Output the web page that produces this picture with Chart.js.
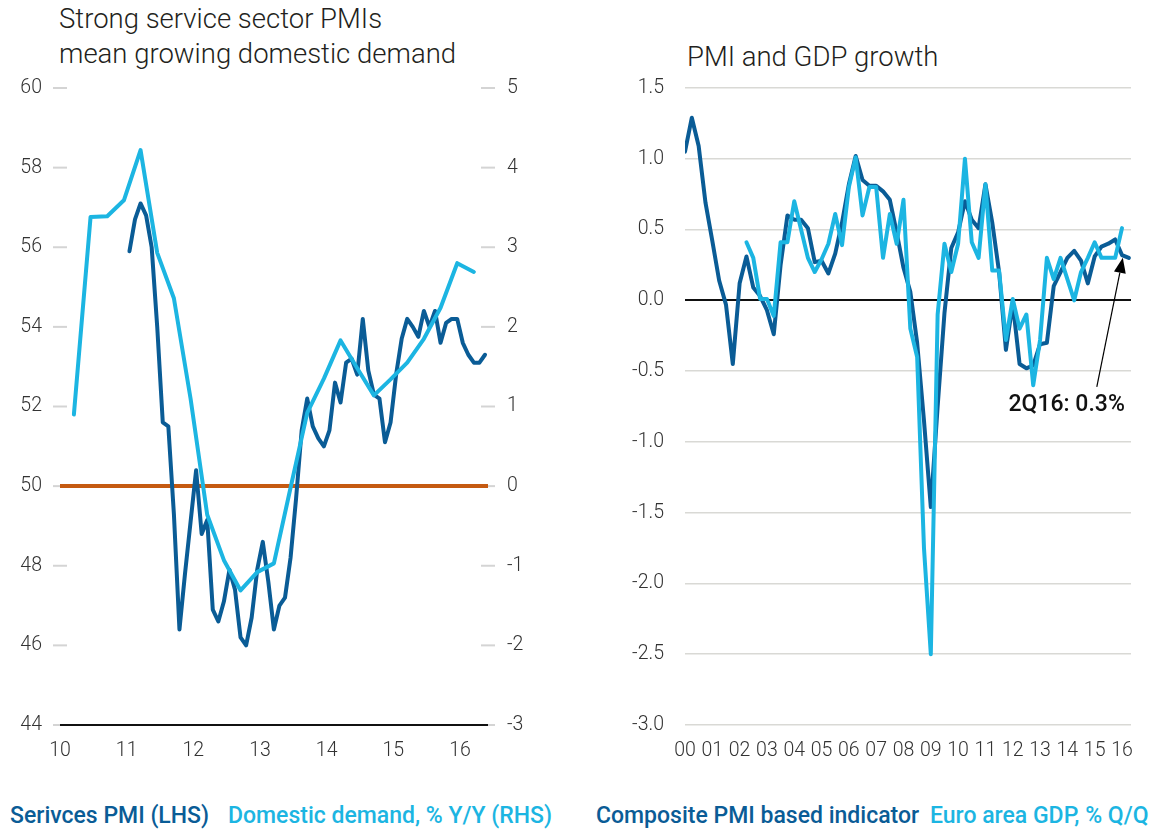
<!DOCTYPE html>
<html>
<head>
<meta charset="utf-8">
<script src="https://cdn.jsdelivr.net/npm/chart.js@4.4.1/dist/chart.umd.min.js"></script>
<style>
  body { margin: 0; background: #fff; width: 1167px; height: 829px; position: relative; overflow: hidden; font-family: Roboto, sans-serif; }
  canvas { position: absolute; top: 0; }
  #leftChart { left: 0; }
  #rightChart { left: 580px; }
  .title { position: absolute; color: #231f20; font-size: 27.5px; font-weight: 300; line-height: 35px; white-space: nowrap; }
  .legend { position: absolute; top: 802px; font-size: 23px; font-weight: 500; white-space: nowrap; line-height: 28px; }
</style>
</head>
<body>
<div class="title" style="left:59px; top:1px;">Strong service sector PMIs<br>mean growing domestic demand</div>
<div class="title" style="left:687px; top:39px;">PMI and GDP growth</div>

<canvas id="leftChart" width="580" height="790"></canvas>
<canvas id="rightChart" width="587" height="790"></canvas>

<div class="legend" style="left:10px; color:#0a5c96;">Serivces PMI (LHS)</div>
<div class="legend" style="left:228px; color:#1cb5e2;">Domestic demand, % Y/Y (RHS)</div>
<div class="legend" style="left:596px; color:#0a5c96;">Composite PMI based indicator</div>
<div class="legend" style="left:930px; color:#1cb5e2;">Euro area GDP, % Q/Q</div>

<script>
const DARK = '#0a5c96';
const LIGHT = '#1cb5e2';
const ORANGE = '#c55a11';
const TEXT = '#333333';

// left panel: services PMI, monthly from Jan 2011
const servicesPmi = [
  55.9, 56.7, 57.1, 56.8, 56.0, 54.0, 51.6, 51.5, 49.3, 46.4, 47.8, 49.1,
  50.4, 48.8, 49.15, 46.9, 46.6, 47.1, 47.9, 47.4, 46.2, 46.0, 46.7, 47.9,
  48.6, 47.6, 46.4, 47.0, 47.2, 48.2, 49.7, 51.4, 52.2, 51.5, 51.2, 51.0,
  51.4, 52.6, 52.1, 53.1, 53.2, 52.8, 54.2, 52.9, 52.3, 52.2, 51.1, 51.6,
  52.8, 53.7, 54.2, 54.0, 53.75, 54.4, 54.0, 54.4, 53.6, 54.1, 54.2, 54.2,
  53.6, 53.3, 53.1, 53.1, 53.3
];
// domestic demand % y/y, quarterly from 1Q10
const domesticDemand = [
  0.90, 3.38, 3.39, 3.59,
  4.22, 2.93, 2.36, 1.10,
  -0.36, -0.93, -1.31, -1.08,
  -0.97, -0.02, 0.92, 1.35,
  1.83, 1.48, 1.14, 1.34,
  1.55, 1.85, 2.24, 2.80,
  2.69
];
const leftYears = [2010, 2011, 2012, 2013, 2014, 2015, 2016];

// right panel: quarterly from 1Q00
const compositeIndicator = [
  1.05, 1.29, 1.09, 0.69, 0.42, 0.14, -0.03, -0.45,
  0.12, 0.31, 0.09, 0.03, -0.07, -0.24, 0.25, 0.60,
  0.57, 0.57, 0.51, 0.27, 0.28, 0.19, 0.33, 0.55,
  0.82, 1.02, 0.85, 0.81, 0.81, 0.77, 0.71, 0.48,
  0.23, 0.06, -0.30, -0.85, -1.46, -0.75, -0.09, 0.37,
  0.48, 0.70, 0.57, 0.51, 0.82, 0.55, 0.20, -0.35,
  -0.02, -0.45, -0.48, -0.46, -0.31, -0.30, 0.10, 0.20,
  0.30, 0.35, 0.28, 0.12, 0.31, 0.38, 0.40, 0.43,
  0.32, 0.30
];
// euro area GDP % q/q, quarterly from 2Q02
const euroGdp = [
  0.41, 0.30, 0.01, 0.01, -0.11, 0.41, 0.41,
  0.70, 0.50, 0.30, 0.20, 0.29, 0.40, 0.61, 0.39,
  0.80, 1.01, 0.60, 0.80, 0.80, 0.30, 0.61, 0.40,
  0.71, -0.20, -0.40, -1.75, -2.50, -0.10, 0.40, 0.20,
  0.40, 1.00, 0.41, 0.30, 0.82, 0.21, 0.21, -0.28,
  0.01, -0.20, -0.10, -0.60, -0.28, 0.30, 0.15, 0.30,
  0.15, 0.00, 0.20, 0.30, 0.41, 0.30, 0.30, 0.30,
  0.51
];
const gdpStart = 2002.25;
const rightYears = [2000, 2001, 2002, 2003, 2004, 2005, 2006, 2007, 2008,
  2009, 2010, 2011, 2012, 2013, 2014, 2015, 2016];
const calloutQuarter = '2Q16';

const axisFont = { family: 'Roboto', size: 19.5, weight: '300' };
const yearLabel = v => String(v).slice(2);

// short grey marks straddling both value axes of the left panel
const tickMarks = {
  id: 'tickMarks',
  beforeDraw(chart) {
    const { ctx, chartArea } = chart;
    ctx.save();
    ctx.strokeStyle = '#d4d4d4';
    ctx.lineWidth = 2;
    [['y', chartArea.left], ['y1', chartArea.right]].forEach(([id, edge]) => {
      const scale = chart.scales[id];
      scale.ticks.forEach(t => {
        const py = scale.getPixelForValue(t.value);
        ctx.beginPath();
        ctx.moveTo(edge - 7, py);
        ctx.lineTo(edge + 7, py);
        ctx.stroke();
      });
    });
    ctx.restore();
  }
};

// arrow and label pointing at the latest indicator reading
const lastCallout = {
  id: 'lastCallout',
  afterDatasetsDraw(chart) {
    const meta = chart.getDatasetMeta(1);
    const pt = meta.data[meta.data.length - 1];
    const value = compositeIndicator[compositeIndicator.length - 1];
    const { ctx } = chart;
    const tipX = pt.x - 6, tipY = pt.y;
    const tailX = tipX - 26, tailY = tipY + 129;
    const len = Math.hypot(tipX - tailX, tipY - tailY);
    const ux = (tipX - tailX) / len, uy = (tipY - tailY) / len;
    const headLen = 15, headHalf = 6;
    const bx = tipX - ux * headLen, by = tipY - uy * headLen;
    ctx.save();
    ctx.strokeStyle = '#000';
    ctx.fillStyle = '#000';
    ctx.lineWidth = 1.2;
    ctx.beginPath();
    ctx.moveTo(tailX, tailY);
    ctx.lineTo(bx, by);
    ctx.stroke();
    ctx.beginPath();
    ctx.moveTo(tipX, tipY);
    ctx.lineTo(bx - uy * headHalf, by + ux * headHalf);
    ctx.lineTo(bx + uy * headHalf, by - ux * headHalf);
    ctx.closePath();
    ctx.fill();
    ctx.font = '500 23px Roboto';
    ctx.textAlign = 'right';
    ctx.textBaseline = 'middle';
    ctx.fillStyle = '#111';
    ctx.fillText(`${calloutQuarter}: ${value.toFixed(1)}%`, tipX + 2, tipY + 147);
    ctx.restore();
  }
};

const lineElements = {
  point: { radius: 0 },
  line: { borderWidth: 4, tension: 0, borderJoinStyle: 'round', borderCapStyle: 'round', fill: false }
};

new Chart(document.getElementById('leftChart'), {
  type: 'line',
  data: {
    datasets: [
      {
        label: 'Domestic demand, % Y/Y (RHS)',
        data: domesticDemand.map((v, q) => ({ x: 2010 + (3 * q + 2.5) / 12, y: v })),
        yAxisID: 'y1',
        borderColor: LIGHT,
        order: 0
      },
      {
        label: 'Serivces PMI (LHS)',
        data: servicesPmi.map((v, m) => ({ x: 2011 + (m + 0.5) / 12, y: v })),
        yAxisID: 'y',
        borderColor: DARK,
        order: 1
      }
    ]
  },
  options: {
    responsive: false,
    animation: false,
    layout: { padding: { top: 88, left: 0, right: 0, bottom: 0 } },
    elements: lineElements,
    plugins: { legend: { display: false }, tooltip: { enabled: false } },
    scales: {
      x: {
        type: 'linear',
        min: 2010,
        max: 2016.42,
        afterBuildTicks: s => { s.ticks = leftYears.map(v => ({ value: v })); },
        ticks: { callback: yearLabel, font: axisFont, color: TEXT, padding: 14, maxRotation: 0, autoSkip: false },
        grid: { display: false, drawTicks: false },
        border: { display: false },
        afterFit: s => { s.height = 65; }
      },
      y: {
        position: 'left',
        min: 44,
        max: 60,
        ticks: { stepSize: 2, font: axisFont, color: TEXT, padding: 18 },
        grid: {
          drawTicks: false,
          color: c => c.tick.value === 50 ? ORANGE : (c.tick.value === 44 ? '#111' : 'rgba(0,0,0,0)'),
          lineWidth: c => c.tick.value === 50 ? 4 : 2
        },
        border: { display: false },
        afterFit: s => { s.width = 60; }
      },
      y1: {
        position: 'right',
        min: -3,
        max: 5,
        ticks: { stepSize: 1, font: axisFont, color: TEXT, padding: 19 },
        grid: { display: false, drawTicks: false },
        border: { display: false },
        afterFit: s => { s.width = 92; }
      }
    }
  },
  plugins: [tickMarks]
});

new Chart(document.getElementById('rightChart'), {
  type: 'line',
  data: {
    datasets: [
      {
        label: 'Euro area GDP, % Q/Q',
        data: euroGdp.map((v, i) => ({ x: gdpStart + i / 4, y: v })),
        borderColor: LIGHT,
        order: 0
      },
      {
        label: 'Composite PMI based indicator',
        data: compositeIndicator.map((v, i) => ({ x: 2000 + i / 4, y: v })),
        borderColor: DARK,
        order: 1
      }
    ]
  },
  options: {
    responsive: false,
    animation: false,
    layout: { padding: { top: 88, left: 0, right: 36, bottom: 0 } },
    elements: lineElements,
    plugins: { legend: { display: false }, tooltip: { enabled: false } },
    scales: {
      x: {
        type: 'linear',
        min: 2000,
        max: 2016.33,
        afterBuildTicks: s => { s.ticks = rightYears.map(v => ({ value: v })); },
        ticks: { callback: yearLabel, font: axisFont, color: TEXT, padding: 14, maxRotation: 0, autoSkip: false },
        grid: { display: false, drawTicks: false },
        border: { display: false },
        afterFit: s => { s.height = 65; }
      },
      y: {
        position: 'left',
        min: -3,
        max: 1.5,
        ticks: { stepSize: 0.5, font: axisFont, color: TEXT, padding: 21, callback: v => v.toFixed(1) },
        grid: {
          drawTicks: false,
          color: c => c.tick.value === 0 ? '#111' : '#d9d9d5',
          lineWidth: c => c.tick.value === 0 ? 2 : 1.5
        },
        border: { display: false },
        afterFit: s => { s.width = 105; }
      }
    }
  },
  plugins: [lastCallout]
});
</script>
</body>
</html>
